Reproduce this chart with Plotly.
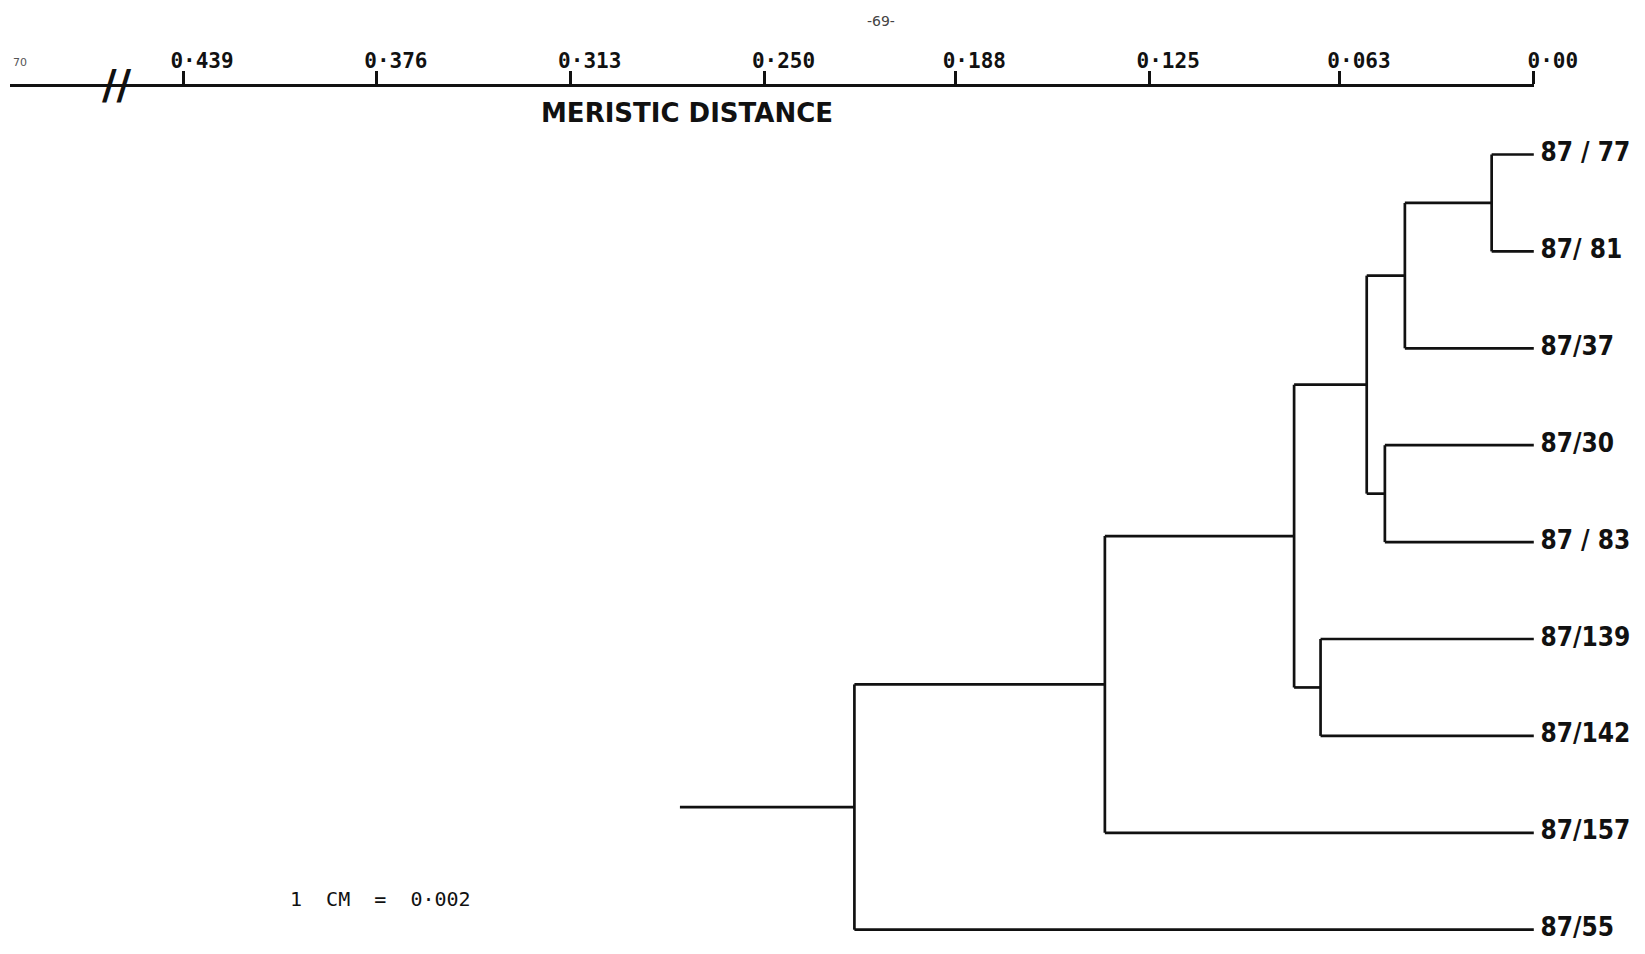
import plotly.graph_objects as go

# ---- data ----
leaf_labels = ["87 / 77", "87/ 81", "87/37", "87/30", "87 / 83",
               "87/139", "87/142", "87/157", "87/55"]
# merges: (child_a, child_b, distance); leaves are 0..8, new nodes 9..
merge_a = [0, 9, 3, 10, 5, 12, 14, 15]
merge_b = [1, 2, 4, 11, 6, 13, 7, 8]
merge_h = [0.0137, 0.0419, 0.0484, 0.0543, 0.0693, 0.0779, 0.1394, 0.2208]
root_stub = 0.2775
tick_vals = [0.439, 0.376, 0.313, 0.250, 0.188, 0.125, 0.063, 0.0]
tick_text = ["0·439", "0·376", "0·313", "0·250", "0·188", "0·125", "0·063", "0·00"]

# ---- layout constants (page has an 8px body margin) ----
OFF = 8
W, H = 1629, 938
ML, MR = 2, 0
PW = W - ML - MR
PX0 = 1533.8      # page x of distance 0
PXU = 3077.0      # page px per distance unit
R0 = (PX0 - (OFF + ML)) / PXU
REND = -((OFF + W - MR) - PX0) / PXU
F_AXIS = R0 / (R0 - REND)
LEAF0 = 154.5 - OFF
STEP = 96.9
Y_RANGE = [(H - LEAF0) / STEP, -LEAF0 / STEP]


def py(page_y):
    return 1 - (page_y - OFF) / H


def pxp(page_x):
    return (page_x - OFF - ML) / PW


AXIS_POS = py(85)

n = len(leaf_labels)
pos_y = {i: float(i) for i in range(n)}
pos_h = {i: 0.0 for i in range(n)}
xs, ys = [], []
for k, (a, b, h) in enumerate(zip(merge_a, merge_b, merge_h)):
    node = n + k
    for c in (a, b):
        xs += [pos_h[c], h, None]
        ys += [pos_y[c], pos_y[c], None]
    xs += [h, h, None]
    ys += [pos_y[a], pos_y[b], None]
    pos_y[node] = (pos_y[a] + pos_y[b]) / 2
    pos_h[node] = h
root = n + len(merge_h) - 1
xs += [pos_h[root], root_stub]
ys += [pos_y[root], pos_y[root]]

fig = go.Figure()
fig.add_trace(go.Scatter(x=xs, y=ys, mode="lines",
                         line=dict(color="#111", width=2.7),
                         hoverinfo="skip", showlegend=False))
fig.add_trace(go.Scatter(x=[0.0] * n, y=list(range(n)), mode="markers+text",
                         marker=dict(size=9, color="rgba(0,0,0,0)"),
                         text=leaf_labels, textposition="middle right",
                         textfont=dict(family="DejaVu Sans Condensed", size=26,
                                       color="#111", weight="bold"),
                         hoverinfo="skip", showlegend=False, cliponaxis=False))
# invisible trace to carry the top distance axis
fig.add_trace(go.Scatter(x=[0.0], y=[0], xaxis="x2", yaxis="y2", mode="markers",
                         marker=dict(opacity=0), hoverinfo="skip", showlegend=False))

fig.update_layout(
    template="none",
    width=W, height=H,
    margin=dict(l=ML, r=MR, t=0, b=0, pad=0, autoexpand=False),
    paper_bgcolor="white", plot_bgcolor="white",
    xaxis=dict(range=[R0, REND], visible=False, domain=[0, 1], automargin=False),
    yaxis=dict(range=Y_RANGE, visible=False, domain=[0, 1], automargin=False),
    xaxis2=dict(range=[R0, 0.0], domain=[0, F_AXIS], anchor="free", position=AXIS_POS,
                side="top", showline=True, linecolor="#111", linewidth=2.6,
                ticks="outside", ticklen=8, tickwidth=2.6, tickcolor="#111",
                tickvals=tick_vals, ticktext=tick_text, showgrid=False, zeroline=False,
                ticklabelshift=-19,
                minor=dict(tickvals=tick_vals, ticks="outside", ticklen=13,
                           tickwidth=2.6, tickcolor="#111", showgrid=False),
                automargin=False,
                tickfont=dict(family="DejaVu Sans Mono", size=21, color="#111",
                              weight="bold")),
    yaxis2=dict(domain=[0.90, 0.905], visible=False, range=[-1, 1], automargin=False),
    annotations=[
        dict(text="MERISTIC DISTANCE", x=pxp(687), xref="paper", y=py(113), yref="paper",
             xanchor="center", yanchor="middle", showarrow=False,
             font=dict(family="DejaVu Sans", size=26, color="#111", weight="bold")),
        dict(text="1  CM  =  0·002", x=pxp(380), xref="paper", y=py(899), yref="paper",
             xanchor="center", yanchor="middle", showarrow=False,
             font=dict(family="DejaVu Sans Mono", size=20, color="#111")),
        dict(text="-69-", x=pxp(881), xref="paper", y=py(21), yref="paper",
             xanchor="center", yanchor="middle", showarrow=False,
             font=dict(family="DejaVu Sans", size=14, color="#444")),
        dict(text="70", x=pxp(20), xref="paper", y=py(62), yref="paper",
             xanchor="center", yanchor="middle", showarrow=False,
             font=dict(family="DejaVu Sans", size=11, color="#555")),
        dict(text="<b>//</b>", x=0.4603, xref="x2", y=AXIS_POS, yref="paper",
             xanchor="center", yanchor="middle", showarrow=False,
             font=dict(family="DejaVu Sans", size=40, color="#111")),
    ],
)

fig.write_html("out.html")
